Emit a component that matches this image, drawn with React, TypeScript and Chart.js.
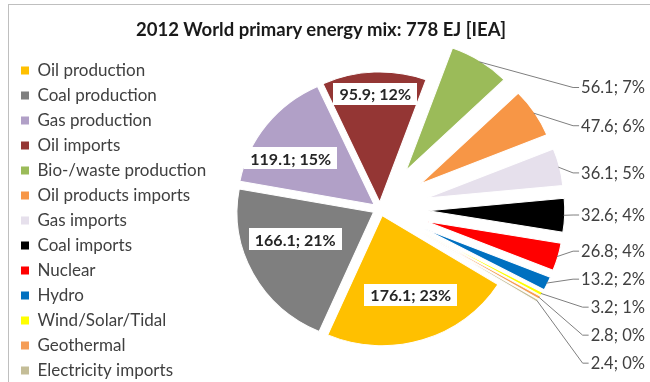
import React, { useEffect, useRef } from 'react';
import { Chart, registerables } from 'chart.js';

Chart.register(...registerables);

const TITLE = '2012 World primary energy mix: 778 EJ [IEA]';
const CATEGORIES = [
  'Oil production',
  'Coal production',
  'Gas production',
  'Oil imports',
  'Bio-/waste production',
  'Oil products imports',
  'Gas imports',
  'Coal imports',
  'Nuclear',
  'Hydro',
  'Wind/Solar/Tidal',
  'Geothermal',
  'Electricity imports',
];
const VALUES = [176.1, 166.1, 119.1, 95.9, 56.1, 47.6, 36.1, 32.6, 26.8, 13.2, 3.2, 2.8, 2.4];
const PERCENTS = [23, 21, 15, 12, 7, 6, 5, 4, 4, 2, 1, 0, 0];

const COLORS = [
  '#FFC000',
  '#7F7F7F',
  '#B1A0C7',
  '#943634',
  '#9BBB59',
  '#F79646',
  '#E6E0EC',
  '#000000',
  '#FF0000',
  '#0070C0',
  '#FFFF00',
  '#F59D56',
  '#C4BD97',
];
const EXPLODE = [7, 7, 7, 7, 46, 46, 46, 46, 46, 46, 46, 46, 46];
const LABEL_INSIDE = [true, true, true, true, false, false, false, false, false, false, false, false, false];

const FONT = 'Lato, "Open Sans", "DejaVu Sans", sans-serif';
// the reference pie is drawn slightly wider than tall
const STRETCH_X = 1.05;
const PIE_CENTER_X = 380;

const stretchX = (x: number, cx: number) => cx + (x - cx) * STRETCH_X;

const explodePlugin = {
  id: 'explodeSlices',
  beforeDatasetDraw(chart: any, args: any) {
    const ctx = chart.ctx;
    args.meta.data.forEach((arc: any, i: number) => {
      const mid = (arc.startAngle + arc.endAngle) / 2;
      const d = EXPLODE[i] || 0;
      ctx.save();
      ctx.translate(arc.x, 0);
      ctx.scale(STRETCH_X, 1);
      ctx.translate(-arc.x, 0);
      ctx.translate(Math.cos(mid) * d, Math.sin(mid) * d);
      arc.draw(ctx);
      ctx.restore();
    });
    return false;
  },
};

const labelPlugin = {
  id: 'sliceLabels',
  afterDatasetsDraw(chart: any) {
    const ctx = chart.ctx;
    const meta = chart.getDatasetMeta(0);
    const outside: any[] = [];
    ctx.save();
    meta.data.forEach((arc: any, i: number) => {
      const { x, y, startAngle, endAngle, outerRadius: R } = arc;
      const mid = (startAngle + endAngle) / 2;
      const d = EXPLODE[i] || 0;
      const cx = x + Math.cos(mid) * d;
      const cy = y + Math.sin(mid) * d;
      const text = `${VALUES[i].toFixed(1)}; ${PERCENTS[i]}%`;
      if (LABEL_INSIDE[i]) {
        ctx.font = `bold 16px ${FONT}`;
        const tw = ctx.measureText(text).width;
        const bw = tw + 12;
        const bh = 22;
        const half = (endAngle - startAngle) / 2;
        let a = mid;
        const span = (endAngle - startAngle) * 180 / Math.PI;
        if (span > 50 && Math.abs(Math.cos(mid)) > 0.7) {
          a = mid - (9 * Math.PI / 180) * Math.sign(Math.sin(mid)) * Math.sign(Math.cos(mid));
        }
        const r = Math.max(0.64 * R, bw / 2 / STRETCH_X / Math.tan(half) + bh / 2);
        const lx = cx + Math.cos(a) * r + (Math.cos(a) > 0 ? 4 : 0);
        const ly = cy + Math.sin(a) * r;
        ctx.fillStyle = '#ffffff';
        ctx.fillRect(Math.round(lx - bw / 2), Math.round(ly - bh / 2), Math.round(bw), bh);
        ctx.fillStyle = '#262626';
        ctx.textAlign = 'center';
        ctx.textBaseline = 'middle';
        ctx.fillText(text, lx, ly + 1);
      } else {
        outside.push({ i, mid, cx, cy, R, x, y, text });
      }
    });

    // outside labels, stacked in a column on the right
    const topLimit = chart.chartArea.top + 56;
    const gap = 28;
    let prev = -Infinity;
    const rightX = chart.width - 5;
    ctx.font = `16.5px ${FONT}`;
    outside.forEach((o) => {
      let ly = o.y + (o.R + 23) * Math.sin(o.mid);
      ly = Math.max(ly, topLimit, prev + gap);
      prev = ly;
      const tw = ctx.measureText(o.text).width;
      const left = rightX - tw;
      const px = stretchX(o.cx + Math.cos(o.mid) * (o.R - 1), o.x);
      const py = o.cy + Math.sin(o.mid) * (o.R - 1);
      ctx.strokeStyle = '#7f7f7f';
      ctx.lineWidth = 1;
      ctx.beginPath();
      ctx.moveTo(px, py);
      ctx.lineTo(left - 8, ly + 0.5);
      ctx.lineTo(left - 2, ly + 0.5);
      ctx.stroke();
      ctx.fillStyle = '#404040';
      ctx.textAlign = 'right';
      ctx.textBaseline = 'middle';
      ctx.fillText(o.text, rightX, ly + 1);
    });
    ctx.restore();
  },
};

export default function App() {
  const ref = useRef<HTMLCanvasElement | null>(null);

  useEffect(() => {
    if (!ref.current) return;
    const chart = new Chart(ref.current, {
      type: 'pie',
      data: {
        labels: CATEGORIES,
        datasets: [
          {
            data: VALUES,
            backgroundColor: COLORS,
            borderColor: '#ffffff',
            borderWidth: 1,
          },
        ],
      },
      options: {
        responsive: false,
        animation: false,
        events: [],
        rotation: 122,
        radius: 130,
        layout: { padding: { top: 31, left: 13, right: 100, bottom: 0 } },
        plugins: {
          title: { display: false },
          tooltip: { enabled: false },
          legend: {
            display: true,
            position: 'left',
            align: 'end',
            labels: {
              boxWidth: 8,
              boxHeight: 8,
              padding: 8,
              color: '#404040',
              font: { family: FONT, size: 17 },
              generateLabels: (c: any) =>
                c.data.labels.map((l: string, i: number) => ({
                  text: l,
                  fillStyle: COLORS[i],
                  strokeStyle: COLORS[i],
                  lineWidth: 0,
                  hidden: false,
                  index: i,
                  fontColor: '#404040',
                })),
            },
          },
        },
      } as any,
      plugins: [explodePlugin, labelPlugin],
    });
    // place the pie centre where the reference has it, next to the legend
    const legendRight = chart.legend ? chart.legend.right : 220;
    (chart.options.layout as any).padding.right = Math.max(0, legendRight + chart.width - 2 * PIE_CENTER_X);
    chart.update();
    return () => chart.destroy();
  }, []);

  return (
    <div
      style={{
        position: 'fixed',
        left: 0,
        top: 0,
        width: 650,
        height: 382,
        overflow: 'hidden',
        background: '#ffffff',
      }}
    >
      <canvas ref={ref} width={650} height={387} style={{ position: 'absolute', left: 0, top: 0 }} />
      <div
        style={{
          position: 'absolute',
          left: 8,
          top: 4,
          width: 700,
          height: 420,
          borderLeft: '1px solid #bfbfbf',
          borderTop: '1px solid #bfbfbf',
          pointerEvents: 'none',
        }}
      />
      <div
        style={{
          position: 'absolute',
          left: 0,
          top: 18,
          width: 642,
          textAlign: 'center',
          font: `bold 18.5px ${FONT}`,
          lineHeight: '22px',
          color: '#1a1a1a',
          whiteSpace: 'nowrap',
        }}
      >
        {TITLE}
      </div>
    </div>
  );
}
